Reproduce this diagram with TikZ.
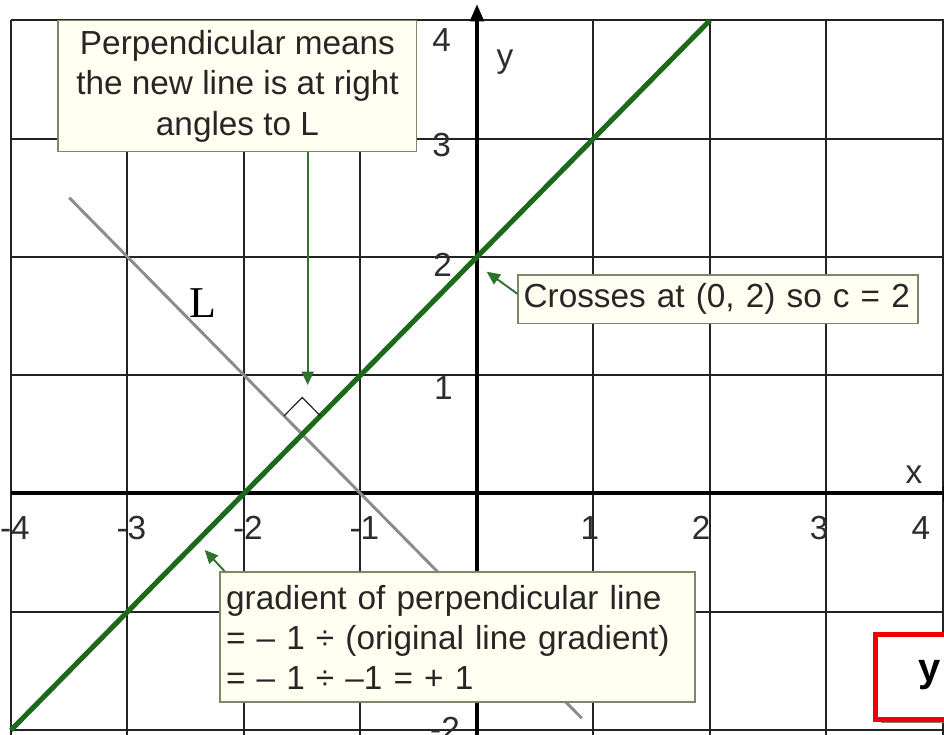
\documentclass[tikz,border=0pt]{standalone}
\usepackage{fontspec}
\setmainfont{Liberation Sans}
\newfontfamily\serifL{Liberation Serif}
\usetikzlibrary{arrows.meta}
\definecolor{gridc}{RGB}{35,35,35}
\definecolor{greenc}{RGB}{28,105,28}
\definecolor{arrowc}{RGB}{45,115,45}
\definecolor{grayc}{RGB}{140,140,140}
\definecolor{boxfill}{RGB}{255,255,242}
\definecolor{boxdraw}{RGB}{125,135,105}
\definecolor{labelc}{RGB}{45,45,45}
\definecolor{redc}{RGB}{240,0,0}
\tikzset{
  gridline/.style={draw=gridc,line width=1.5pt},
  axisline/.style={draw=black,line width=3pt,-{Triangle[length=13pt,width=10pt]}},
  mainline/.style={draw=greenc,line width=3.8pt},
  lline/.style={draw=grayc,line width=2.2pt},
  lbl/.style={text=labelc,inner sep=0pt,font=\fontsize{25}{30}\selectfont},
  callout/.style={draw=boxdraw,fill=boxfill,line width=1.2pt,text=black!85,
    font=\fontsize{25}{30.5}\selectfont},
  pointer/.style={draw=arrowc,line width=1.4pt,-{Triangle[length=10pt,width=9pt]}},
}
\begin{document}
\begin{tikzpicture}[x=87.375pt,y=88.725pt]
\clip (-4.0944,-2.0414) rectangle (4.0086,4.1716);
\fill[white] (-4.0944,-2.0414) rectangle (4.0086,4.1716);
% grid
\foreach \i in {-4,...,4} \draw[gridline] (\i,-2.1) -- (\i,4);
\foreach \j in {-2,...,4} \draw[gridline] (-4,\j) -- (4.1,\j);
% axes
\draw[axisline] (0,-2.1) -- (0,4.1378);
\draw[axisline] (-4,0) -- (4.15,0);
% lines
\draw[lline] (-3.5,2.5) -- (0.9,-1.9);
\draw[mainline] (-4,-2) -- (2,4);
% right angle marker
\draw[draw=gridc,line width=0.9pt] (-1.656,0.656) -- (-1.5,0.812) -- (-1.344,0.656);
% axis labels
\node[lbl] (ly4) at (-0.303,3.8335) {4};
\node[lbl] (ly3) at (-0.303,2.9459) {3};
\node[lbl] (ly2) at (-0.2944,1.9315) {2};
\node[lbl] (ly1) at (-0.2893,0.8918) {1};
\node[lbl] (lym2) at (-0.2747,-1.9907) {-2};
\node[lbl] (lxm4) at (-3.966,-0.2916) {-4};
\node[lbl] (lxm3) at (-2.966,-0.2916) {-3};
\node[lbl] (lxm2) at (-1.966,-0.2916) {-2};
\node[lbl] (lxm1) at (-0.966,-0.2916) {-1};
\node[lbl] (lx1) at (0.970,-0.2916) {1};
\node[lbl] (lx2) at (1.923,-0.2916) {2};
\node[lbl] (lx3) at (2.936,-0.2916) {3};
\node[lbl] (lx4) at (3.811,-0.2916) {4};
\node[lbl] (ylab) at (0.2403,3.6475) {y};
\node[lbl] (xlab) at (3.7511,0.1564) {x};
\node[text=black,inner sep=0pt,font=\serifL\fontsize{33}{33}\selectfont] (Llab) at (-2.3519,1.6103) {L};
% callouts
\node[callout,minimum width=268.8pt,minimum height=98.25pt,align=center,inner sep=2pt] (box1) at (-2.0558,3.4430)
  {Perpendicular means\\the new line is at right\\angles to L};
\node[callout,text width=292pt,inner xsep=4pt,inner ysep=0pt,minimum height=36.2pt,align=left] (box2) at (2.0712,1.6424)
  {Crosses at (0, 2) so c = 2};
\node[callout,text width=347pt,inner xsep=4.6pt,inner ysep=2pt,minimum height=97.5pt,align=left,
  font=\fontsize{25}{30}\selectfont] (box3) at (-0.1674,-1.2130)
  {gradient of perpendicular line\\= – 1 ÷ (original line gradient)\\= – 1 ÷ –1 = + 1};
% pointers
\coordinate (tip1) at (-1.4532,0.9172);
\coordinate (tip2) at (0.0833,1.8749);
\coordinate (tip3) at (-2.3373,-0.4776);
\draw[pointer] (box1.south -| tip1) -- (tip1);
\draw[pointer] ([yshift=4pt]box2.west) -- (tip2);
\draw[pointer] ([xshift=4pt]box3.north west) -- (tip3);
% red overlay box
\fill[gray] (3.4678,-1.8893) rectangle (4.1,-1.9400);
\draw[draw=redc,line width=3.75pt,fill=white] (3.4206,-1.1919) rectangle (4.3,-1.9104);
\node[inner sep=0pt,font=\bfseries\fontsize{30}{30}\selectfont] (redy) at (3.8884,-1.5342) {y};
\end{tikzpicture}
\end{document}
